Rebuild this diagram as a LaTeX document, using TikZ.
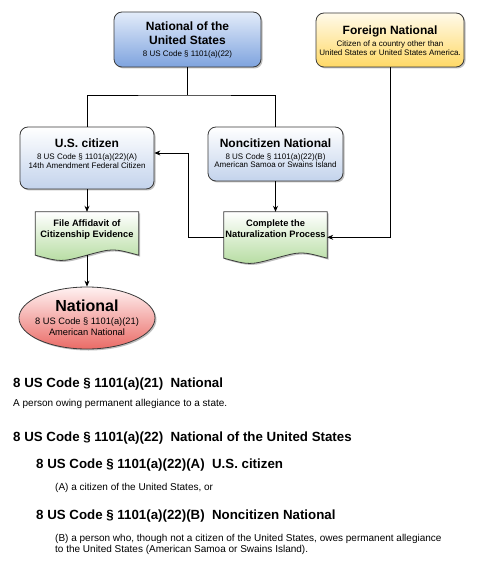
\documentclass[tikz,border=0pt]{standalone}
\usepackage{fontspec}
\setmainfont{Liberation Sans}
\usetikzlibrary{arrows.meta,shapes.geometric,shadows,calc}
\definecolor{bdr}{HTML}{3A3A3A}
\definecolor{blueT}{HTML}{E3ECFA}
\definecolor{blueB}{HTML}{7EA3DE}
\definecolor{paleB}{HTML}{C3D3EC}
\definecolor{yelT}{HTML}{FFFAEA}
\definecolor{yelB}{HTML}{FFD966}
\definecolor{grnB}{HTML}{B5DCA0}
\definecolor{redT}{HTML}{FFF2F2}
\definecolor{redB}{HTML}{EA6B66}
\newcommand\docpath[3]{%
  \path[docline, top color=#2, bottom color=#3]
    (#1.south west) -- (#1.north west) -- (#1.north east) -- (#1.south east)
    .. controls ($(#1.south west)!0.75!(#1.south east)+(0,-7)$) .. (#1.south)
    .. controls ($(#1.south west)!0.25!(#1.south east)+(0,7)$) .. cycle;}
\begin{document}
\begin{tikzpicture}[x=1pt,y=-1pt,
  shad/.style={drop shadow={shadow xshift=1.5pt,shadow yshift=-1.5pt,opacity=.25,fill=black}},
  box/.style={draw=bdr, line width=0.8pt, rounded corners=8pt, inner sep=0, shad},
  docline/.style={draw=bdr, line width=0.8pt, shad},
  anch/.style={inner sep=0, draw=none},
  conn/.style={draw=black, line width=0.8pt},
  arr/.style={-{Stealth[length=6pt,width=5pt]}},
  ttl/.style={inner sep=0, font=\fontsize{12}{14}\selectfont\bfseries, text height=8.6pt, text depth=0pt},
  sm/.style={inner sep=0, font=\fontsize{8}{10}\selectfont, text height=5.7pt, text depth=0pt},
  mid/.style={inner sep=0, font=\fontsize{9.3}{11}\selectfont\bfseries, text height=6.7pt, text depth=0pt},
  midn/.style={inner sep=0, font=\fontsize{9.3}{11}\selectfont, text height=6.7pt, text depth=0pt},
  big/.style={inner sep=0, font=\fontsize{16}{18}\selectfont\bfseries, text height=11.5pt, text depth=0pt},
  hd/.style={inner sep=0, anchor=west, font=\fontsize{13.3}{16}\selectfont\bfseries, text height=9.5pt, text depth=0pt},
  bd/.style={inner sep=0, anchor=west, font=\fontsize{10}{12}\selectfont, text height=7.2pt, text depth=0pt}
]
\useasboundingbox (0,0) rectangle (482,577);
\fill[white] (0,0) rectangle (482,577);

% boxes
\node[box, top color=blueT, bottom color=blueB, minimum width=147pt, minimum height=55pt] (nat) at (187.5,39.5) {};
\node[box, top color=yelT, bottom color=yelB, minimum width=148pt, minimum height=54pt] (foreign) at (390,40) {};
\node[box, top color=white, bottom color=paleB, minimum width=134pt, minimum height=62pt] (usc) at (87,158) {};
\node[box, top color=white, bottom color=paleB, minimum width=135pt, minimum height=54pt] (nonc) at (275.5,154) {};
\node[anch, minimum width=103pt, minimum height=43pt] (aff) at (87,233.5) {};
\node[anch, minimum width=103pt, minimum height=46pt] (natz) at (275.5,235) {};
\docpath{aff}{white}{grnB}
\docpath{natz}{white}{grnB}
\node[ellipse, draw=bdr, line width=0.8pt, top color=redT, bottom color=redB, minimum width=136pt, minimum height=62pt, inner sep=0, shad] (natl) at (87,318) {};

% texts in boxes
\node[ttl] (natA) at (187.5,26.7) {National of the};
\node[ttl] (natB) at (187.5,40.7) {United States};
\node[sm] (natC) at (187.5,53.3) {8 US Code § 1101(a)(22)};

\node[ttl] (forA) at (390,30) {Foreign National};
\node[sm] (forB) at (390,43.3) {Citizen of a country other than};
\node[sm] (forC) at (390,52.3) {United States or United States America.};

\node[ttl] (uscA) at (87,143.3) {U.S. citizen};
\node[sm] (uscB) at (87,156.7) {8 US Code § 1101(a)(22)(A)};
\node[sm] (uscC) at (87,165.3) {14th Amendment Federal Citizen};

\node[ttl] (noncA) at (275.5,143.3) {Noncitizen National};
\node[sm] (noncB) at (275.5,156.7) {8 US Code § 1101(a)(22)(B)};
\node[sm] (noncC) at (275.5,164.8) {American Samoa or Swains Island};

\node[mid] (affA) at (87,222.7) {File Affidavit of};
\node[mid] (affB) at (87,234.3) {Citizenship Evidence};

\node[mid] (natzA) at (275.5,223.3) {Complete the};
\node[mid] (natzB) at (275.5,234.6) {Naturalization Process};

\node[big] (natlA) at (87,305.5) {National};
\node[midn] (natlB) at (87,321) {8 US Code § 1101(a)(21)};
\node[midn] (natlC) at (87,332.5) {American National};

% connectors
\coordinate (j) at (187.5,95);
\coordinate (ly) at (0,237.3);
\coordinate (k) at (188,153);
\draw[conn] (nat.south) -- (j);
\draw[conn] (usc.north) |- (j) -| (nonc.north);
\draw[conn,arr] (nonc.south) -- (natz.north);
\draw[conn,arr] (foreign.south) |- (natz.east |- ly);
\draw[conn,arr] (natz.west |- ly) -| (k) -- (k -| usc.east);
\draw[conn,arr] (usc.south) -- (aff.north);
\draw[conn,arr] (aff.south) -- (natl.north);

% definitions text
\node[hd] (h1) at (13,382.7) {8 US Code § 1101(a)(21)\ \ National};
\node[bd] (t1) at (13,403) {A person owing permanent allegiance to a state.};
\node[hd] (h2) at (13,436.7) {8 US Code § 1101(a)(22)\ \ National of the United States};
\node[hd] (h3) at (36,464) {8 US Code § 1101(a)(22)(A)\ \ U.S. citizen};
\node[bd] (t3) at (55,486.7) {(A) a citizen of the United States, or};
\node[hd] (h4) at (36,514.3) {8 US Code § 1101(a)(22)(B)\ \ Noncitizen National};
\node[bd] (t4a) at (55,538.3) {(B) a person who, though not a citizen of the United States, owes permanent allegiance};
\node[bd] (t4b) at (55,549.3) {to the United States (American Samoa or Swains Island).};
\end{tikzpicture}
\end{document}
